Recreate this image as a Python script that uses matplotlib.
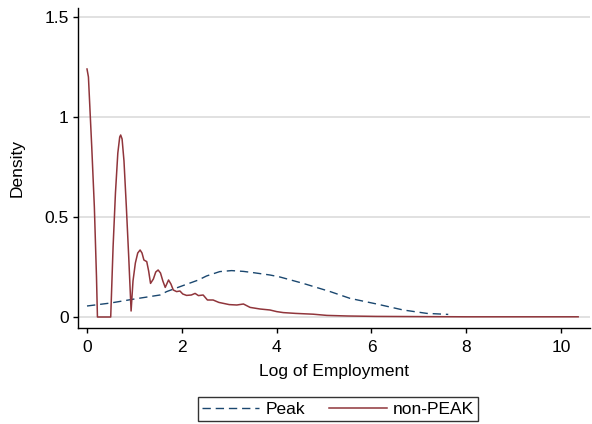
import matplotlib
matplotlib.use("Agg")
import matplotlib.pyplot as plt
import numpy as np

plt.rcParams['font.family'] = ['Liberation Sans', 'DejaVu Sans']

# Peak (dashed navy)
peak_x = [0.0, 0.5, 1.0, 1.54, 1.68, 2.0, 2.35, 2.52, 2.8, 3.05, 3.3, 3.5, 3.86, 4.07,
          4.56, 5.13, 5.55, 6.11, 6.67, 7.17, 7.62]
peak_y = [0.055, 0.07, 0.09, 0.11, 0.127, 0.155, 0.185, 0.205, 0.227, 0.232, 0.228, 0.222,
          0.21, 0.2, 0.168, 0.127, 0.093, 0.065, 0.035, 0.018, 0.013]

# non-PEAK (solid maroon)
nonpeak_x = [0.0, 0.03, 0.06, 0.1, 0.155, 0.2, 0.22, 0.5, 0.55, 0.6, 0.65, 0.69, 0.71, 0.74,
             0.78, 0.83, 0.88, 0.93, 0.97, 1.02, 1.07, 1.12, 1.16, 1.2, 1.26, 1.3, 1.34,
             1.4, 1.45, 1.5, 1.55, 1.6, 1.65, 1.72, 1.77, 1.82, 1.89, 1.96, 2.02, 2.1,
             2.2, 2.28, 2.35, 2.45, 2.54, 2.66, 2.78, 2.88, 3.0, 3.16, 3.3, 3.44, 3.65,
             3.86, 4.0, 4.14, 4.4, 4.77, 5.06, 5.5, 6.1, 7.0, 8.0, 9.0, 10.36]
nonpeak_y = [1.24, 1.2, 1.05, 0.85, 0.55, 0.2, 0.0, 0.0, 0.35, 0.62, 0.82, 0.9, 0.91, 0.89,
             0.78, 0.55, 0.3, 0.03, 0.18, 0.27, 0.32, 0.335, 0.32, 0.285, 0.277, 0.23, 0.168,
             0.19, 0.225, 0.235, 0.22, 0.18, 0.148, 0.185, 0.165, 0.135, 0.127, 0.13, 0.115, 0.108,
             0.11, 0.118, 0.107, 0.11, 0.085, 0.085, 0.073, 0.068, 0.062, 0.06, 0.065, 0.048, 0.04,
             0.035, 0.027, 0.022, 0.018, 0.014, 0.008, 0.005, 0.003, 0.002, 0.001, 0.001, 0.001]

xticks = [0, 2, 4, 6, 8, 10]
yticks = [0, 0.5, 1, 1.5]
yticklabels = ['0', '0.5', '1', '1.5']

FS = 12.5

fig = plt.figure(figsize=(5.92, 4.24), dpi=100)
ax = fig.add_axes([78/592, 1 - 328/424, (590 - 78)/592, (328 - 8)/424])

for y in yticks:
    ax.axhline(y, color='#dcdcdc', lw=1.2, zorder=0)

ax.plot(peak_x, peak_y, color='#1a476f', lw=1.0, dashes=(6, 3.5), label='Peak')
ax.plot(nonpeak_x, nonpeak_y, color='#90353b', lw=1.1, label='non-PEAK')

ax.set_xlim(-0.19, 10.61)
ax.set_ylim(-0.055, 1.545)
ax.set_xticks(xticks)
ax.set_yticks(yticks)
ax.set_yticklabels(yticklabels)
for s in ['top', 'right']:
    ax.spines[s].set_visible(False)
for s in ['left', 'bottom']:
    ax.spines[s].set_linewidth(1.0)
ax.tick_params(direction='out', length=3.8, width=1.0, labelsize=FS)
ax.tick_params(axis='x', pad=4.5)
ax.tick_params(axis='y', pad=3)
ax.set_xlabel('Log of Employment', fontsize=FS, labelpad=7)
ax.set_ylabel('Density', fontsize=FS, labelpad=14)

leg = fig.legend(loc='center', bbox_to_anchor=(338/592, 1 - 409/424), ncol=2,
                 fontsize=FS, frameon=True, fancybox=False, handlelength=3.3,
                 columnspacing=1.4, handletextpad=0.35, borderpad=0.25, borderaxespad=0)
leg.get_frame().set_edgecolor('black')
leg.get_frame().set_linewidth(1.0)

fig.savefig('out.png', dpi=100)
